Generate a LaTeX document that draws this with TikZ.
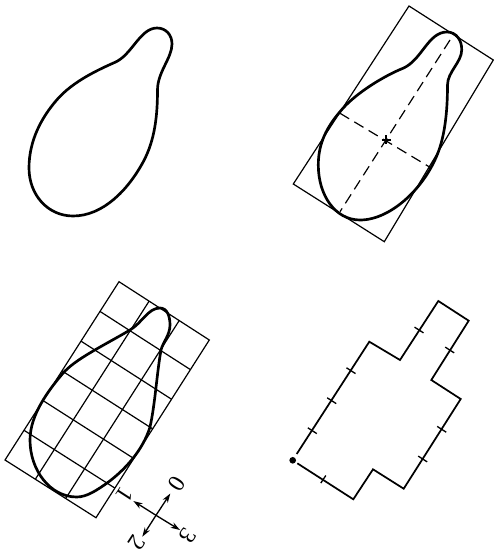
\documentclass[tikz,border=0pt]{standalone}
\usepackage{fontspec}
\setmainfont{Liberation Serif}
\usetikzlibrary{arrows.meta,calc}
\tikzset{
  thin line/.style={line width=0.9pt,black},
  outline/.style={line width=2pt,black,line join=round},
  digit/.style={inner sep=0pt,font=\fontsize{18}{18}\selectfont},
  tick mark/.style={line width=1pt,black},
  dir arrow/.style={line width=1pt,-{Stealth[length=7pt,width=4.5pt]}},
}
\begin{document}
\begin{tikzpicture}[x=0.75pt,y=-0.75pt]
\useasboundingbox (0,0) rectangle (493,556);
% first pear
\draw[outline] (157,28) .. controls (166,28) and (172,35) .. (172,44)
  .. controls (172,58) and (157.5,72) .. (157.5,90)
  .. controls (157.5,115) and (155,140) .. (143.3,161.7)
  .. controls (128,190) and (103,216) .. (73,216)
  .. controls (48,216) and (29,195) .. (29,168)
  .. controls (29,140) and (42,117) .. (56.7,100)
  .. controls (73,81) and (100,69) .. (115,62.3)
  .. controls (132,55) and (140,28) .. (157,28) -- cycle;
% second pear
\draw[outline] (447,32) .. controls (456,32) and (462,40) .. (461.7,50)
  .. controls (461.7,62) and (447.5,72) .. (447.5,85)
  .. controls (447.5,105) and (446,128) .. (440,147)
  .. controls (428,185) and (392,220) .. (360,220)
  .. controls (335,220) and (318.3,195) .. (318.3,165)
  .. controls (318.3,143) and (327,127) .. (340,111.7)
  .. controls (355,93) and (386,75) .. (403,68.3)
  .. controls (422,60) and (428,32) .. (447,32) -- cycle;
\coordinate (ra) at (409,6);
\coordinate (rb) at (493.3,60);
\coordinate (rc) at (384.3,241.7);
\coordinate (rd) at (293.3,184);
\draw[thin line] (ra)--(rb)--(rc)--(rd)--cycle;
\coordinate (dt) at (450,40);
\coordinate (db) at (340,211.7);
\coordinate (dl) at (340,113.3);
\coordinate (dr) at (431.7,168.3);
\draw[thin line,dash pattern=on 8pt off 4.5pt] (dt)--(db);
\draw[thin line,dash pattern=on 8pt off 4.5pt] (dl)--(dr);
\draw[tick mark] (386,135.5)--(386,144.5);
\draw[tick mark] (381.5,140)--(390.5,140);
% third pear with grid
\coordinate (ga) at (119,281.7);
\coordinate (gb) at (209.3,340);
\coordinate (gc) at (96,517.7);
\coordinate (gd) at (5,460);
\draw[thin line] (ga)--(gb)--(gc)--(gd)--cycle;
\foreach \i in {1,...,5}
  \draw[thin line] ($(ga)!\i/6!(gd)$)--($(gb)!\i/6!(gc)$);
\foreach \i in {1,2}
  \draw[thin line] ($(ga)!\i/3!(gb)$)--($(gd)!\i/3!(gc)$);
\draw[outline] (160,308) .. controls (167,308) and (170,316) .. (170,325)
  .. controls (170,335) and (163,342) .. (161,350)
  .. controls (157,372) and (155,405) .. (150,427)
  .. controls (143,450) and (125,470) .. (106.7,483.3)
  .. controls (97,490) and (87,497) .. (76.7,497)
  .. controls (50,497) and (30,470) .. (30,440)
  .. controls (30,415) and (48,391) .. (62.3,374)
  .. controls (75,359) and (103,346) .. (130,330)
  .. controls (142,323) and (148,308) .. (160,308) -- cycle;
% direction rose
\coordinate (o) at (156,515.3);
\coordinate (e0) at (170.3,493.5);
\coordinate (e1) at (133.3,501);
\coordinate (e2) at (142.3,536.7);
\coordinate (e3) at (180,530);
\draw[dir arrow] (o)--(e0);
\draw[dir arrow] (o)--(e1);
\draw[dir arrow] (o)--(e2);
\draw[dir arrow] (o)--(e3);
\node[digit,rotate=-123] (n0) at (176.7,484.3) {0};
\node[digit,rotate=-123] (n1) at (124.7,494.5) {1};
\node[digit,rotate=-123] (n2) at (137,543) {2};
\node[digit,rotate=-123] (n3) at (188,536) {3};
% chain code polygon
\coordinate (p0) at (296.7,454);
\coordinate (p1) at (369.3,341.7);
\coordinate (p2) at (400,360);
\coordinate (p3) at (438.3,301);
\coordinate (p4) at (468.7,320.7);
\coordinate (p5) at (431.3,380);
\coordinate (p6) at (460.7,399);
\coordinate (p7) at (403.7,488.7);
\coordinate (p8) at (373,469.3);
\coordinate (p9) at (353.3,499.3);
\coordinate (p10) at (297.3,463.3);
\draw[line width=1.3pt,line join=miter] (p0)--(p1)--(p2)--(p3)--(p4)--(p5)--(p6)--(p7)--(p8)--(p9)--(p10);
\node[circle,fill=black,inner sep=0pt,minimum size=5pt] (startdot) at (292.7,460.3) {};
\foreach \x/\y in {312.3/430.7,331.7/400.7,351/370.7,419/330,449.7/350,441.7/429.3,422.7/459}
  \draw[tick mark] (\x-4.5,\y-2.9)--(\x+4.5,\y+2.9);
\draw[tick mark] (325.8,475.5)--(320.8,483.1);
\end{tikzpicture}
\end{document}
